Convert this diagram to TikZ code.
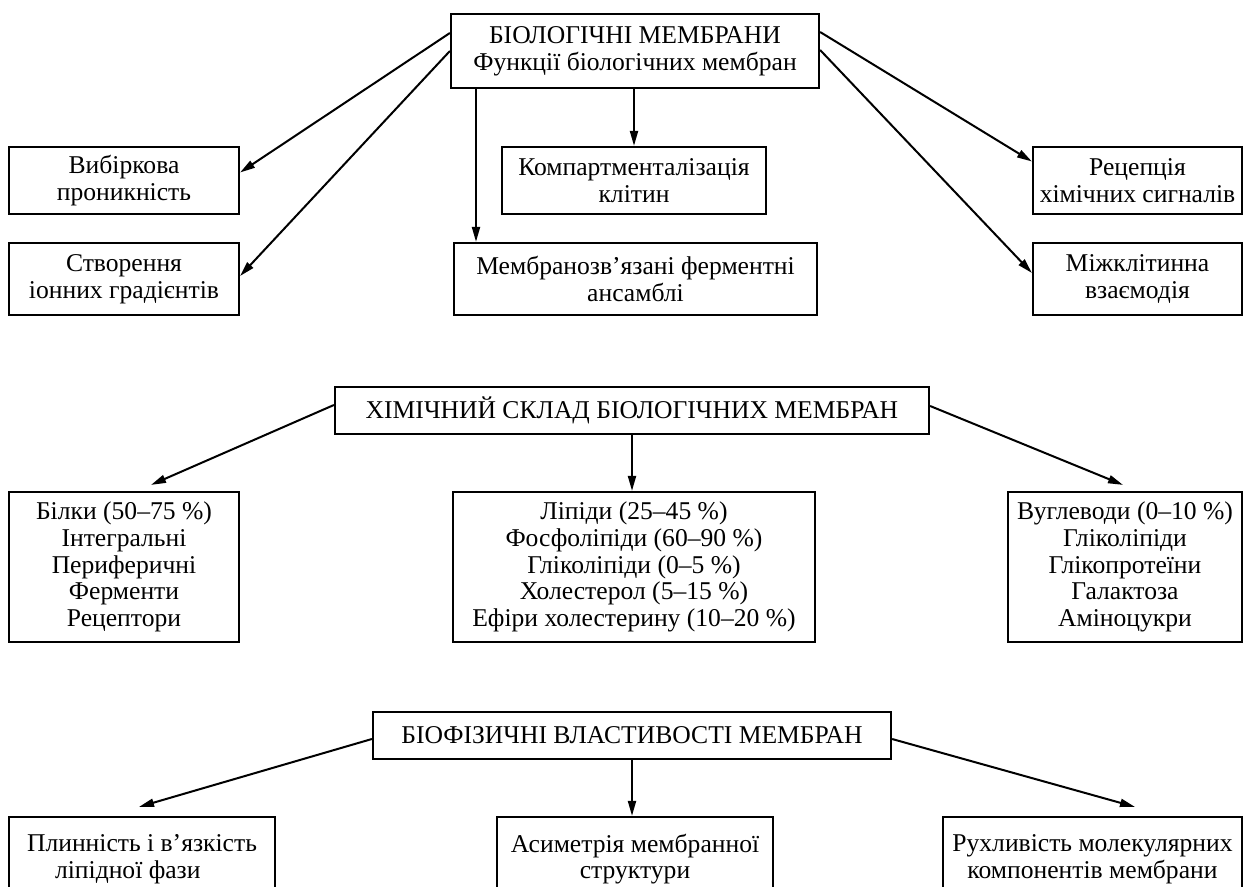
\documentclass[tikz,border=0pt]{standalone}
\usepackage{fontspec}
\setmainfont{Liberation Serif}
\usetikzlibrary{arrows.meta}

\tikzset{
  blk/.style={draw,line width=1.1pt,align=center,inner xsep=3pt,inner ysep=3pt,font=\fontsize{12.8}{13.3}\selectfont},
  arr/.style={line width=1pt,-{Triangle[length=7.5pt,width=4pt]}}
}

\begin{document}
\begin{tikzpicture}[x=.5pt,y=-.5pt]
\useasboundingbox (0,0) rectangle (1247,887);
% functions
\node[blk,minimum width=184pt,minimum height=37pt] (bio) at (635,51) {БІОЛОГІЧНІ МЕМБРАНИ\\Функції біологічних мембран};
\node[blk,minimum width=115pt,minimum height=33.5pt] (vybir) at (124,180.5) {Вибіркова\\проникність};
\node[blk,minimum width=115pt,minimum height=36pt] (stvor) at (124,279) {Створення\\іонних градієнтів};
\node[blk,minimum width=132pt,minimum height=33.5pt] (komp) at (634,180.5) {Компартменталізація\\клітин};
\node[blk,minimum width=181.5pt,minimum height=36pt] (membr) at (635.5,279) {Мембранозв’язані ферментні\\ансамблі};
\node[blk,minimum width=104.5pt,minimum height=33.5pt] (recep) at (1137.5,180.5) {Рецепція\\хімічних сигналів};
\node[blk,minimum width=104.5pt,minimum height=36pt] (mizh) at (1137.5,279) {Міжклітинна\\взаємодія};
\draw[arr] ([yshift=9pt]bio.west) -- ([yshift=4pt]vybir.east);
\draw[arr] (bio.west) -- ([yshift=1.5pt]stvor.east);
\draw[arr] ([yshift=9.5pt]bio.east) -- ([yshift=9.5pt]recep.west);
\draw[arr] ([yshift=.5pt]bio.east) -- ([yshift=3pt]mizh.west);
\draw[arr] ([xshift=-79.5pt]bio.south) -- ([xshift=-79.5pt]bio.south |- membr.north);
\draw[arr] (komp.north |- bio.south) -- (komp.north);
% chemical composition
\node[blk,minimum width=297pt,minimum height=23.5pt] (chem) at (632,410.5) {ХІМІЧНИЙ СКЛАД БІОЛОГІЧНИХ МЕМБРАН};
\node[blk,minimum width=115pt,minimum height=75pt] (bilky) at (124,567) {Білки (50–75~\%)\\Інтегральні\\Периферичні\\Ферменти\\Рецептори};
\node[blk,minimum width=181pt,minimum height=75pt] (lipidy) at (634,567) {Ліпіди (25–45~\%)\\Фосфоліпіди (60–90~\%)\\Гліколіпіди (0–5~\%)\\Холестерол (5–15~\%)\\Ефіри холестерину (10–20~\%)};
\node[blk,minimum width=117pt,minimum height=75pt] (vuhl) at (1125,567) {Вуглеводи (0–10~\%)\\Гліколіпіди\\Глікопротеїни\\Галактоза\\Аміноцукри};
\draw[arr] ([yshift=2.75pt]chem.west) -- ([xshift=13.5pt,yshift=3pt]bilky.north);
\draw[arr] ([yshift=2.25pt]chem.east) -- ([xshift=-1pt,yshift=3pt]vuhl.north);
\draw[arr] (chem.south) -- (chem.south |- lipidy.north);
% biophysical properties
\node[blk,minimum width=259pt,minimum height=23.5pt] (phys) at (632,735.5) {БІОФІЗИЧНІ ВЛАСТИВОСТІ МЕМБРАН};
\node[blk,align=left,minimum width=133pt,minimum height=42pt] (plyn) at (142,859) {Плинність і в’язкість\\\hspace*{14pt}ліпідної фази};
\node[blk,minimum width=138pt,minimum height=42pt] (asym) at (635,859) {Асиметрія мембранної\\структури};
\node[blk,minimum width=149.5pt,minimum height=42pt] (rukh) at (1092.5,859) {Рухливість молекулярних\\компонентів мембрани};
\draw[arr] ([yshift=-1.75pt]phys.west) -- ([xshift=-1.5pt,yshift=4.5pt]plyn.north);
\draw[arr] ([yshift=-1.75pt]phys.east) -- ([xshift=21.25pt,yshift=4.5pt]rukh.north);
\draw[arr] (phys.south) -- (phys.south |- asym.north);
\end{tikzpicture}
\end{document}
